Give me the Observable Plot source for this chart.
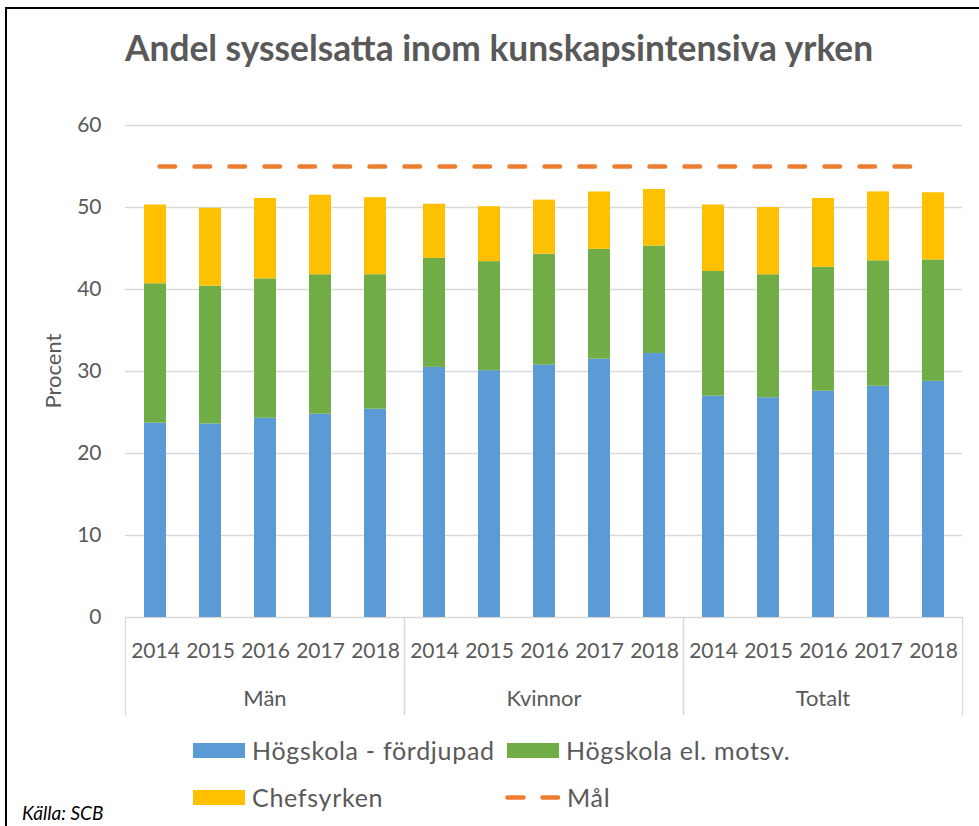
<!DOCTYPE html>
<html>
<head>
<meta charset="utf-8">
<script src="https://cdn.jsdelivr.net/npm/d3@7"></script>
<script src="https://cdn.jsdelivr.net/npm/@observablehq/plot@0.6"></script>
<style>
  html, body { margin: 0; padding: 0; background: #fff; }
  #wrap { position: relative; width: 979px; height: 826px; overflow: hidden; font-family: Lato, "Open Sans", sans-serif; color: #595959; }
  #border { position: absolute; left: 5px; top: 7px; right: -10px; bottom: -10px; border-left: 2px solid #000; border-top: 2px solid #000; }
  #title { position: absolute; left: 125px; top: 28px; font-weight: bold; font-size: 35.3px; white-space: nowrap; line-height: 40px; color: #595959; }
  #ylabel { position: absolute; left: 52px; top: 371px; font-size: 22px; white-space: nowrap; transform: translate(-50%, -50%) rotate(-90deg); color: #595959; }
  .chart { position: absolute; left: 0; top: 0; }
  .leg { position: absolute; display: flex; align-items: center; font-size: 25px; letter-spacing: 0.7px; white-space: nowrap; color: #595959; }
  .sw { width: 52px; height: 15px; margin-right: 7px; }
  #source { position: absolute; left: 22px; top: 801px; font-style: italic; font-size: 19px; color: #000; white-space: nowrap; }
</style>
</head>
<body>
<div id="wrap">
  <div id="border"></div>
  <div id="title"></div>
  <div id="ylabel"></div>
  <div id="legend"></div>
  <div id="source"></div>
</div>
<script>
// ---- Data ----
const titleText = "Andel sysselsatta inom kunskapsintensiva yrken";
const yLabel = "Procent";
const sourceText = "Källa: SCB";
const groups = ["Män", "Kvinnor", "Totalt"];
const years = ["2014", "2015", "2016", "2017", "2018"];
const seriesNames = ["Högskola - fördjupad", "Högskola el. motsv.", "Chefsyrken"];
const goalName = "Mål";
// values in order Män 2014..2018, Kvinnor 2014..2018, Totalt 2014..2018
const hogskolaFordjupad = [23.7, 23.6, 24.3, 24.8, 25.4, 30.5, 30.1, 30.8, 31.5, 32.2, 27.0, 26.8, 27.6, 28.2, 28.8];
const hogskolaMotsv     = [17.0, 16.8, 17.0, 17.0, 16.4, 13.3, 13.3, 13.5, 13.4, 13.1, 15.2, 15.0, 15.1, 15.3, 14.8];
const chefsyrken        = [ 9.6,  9.5,  9.8,  9.7,  9.4,  6.6,  6.7,  6.6,  7.0,  6.9,  8.1,  8.2,  8.4,  8.4,  8.2];
const goalValue = 55;
const yTicks = [0, 10, 20, 30, 40, 50, 60];
const colors = ["#5b9bd5", "#70ad47", "#ffc000"];
const goalColor = "#ed7d31";

// ---- Build tables ----
const seriesValues = [hogskolaFordjupad, hogskolaMotsv, chefsyrken];
const rows = [];
groups.forEach((g, gi) => years.forEach((yr, yi) => {
  const i = gi * years.length + yi;
  seriesNames.forEach((s, si) => rows.push({group: g, year: yr, series: s, value: seriesValues[si][i]}));
}));
const keys = groups.flatMap(g => years.map(y => g + " " + y));
const goalRows = keys.map(k => ({key: k, goal: goalValue}));

const W = 979, H = 826;
const M = {top: 125, bottom: 209, left: 124, right: 16};
const grey = "#d9d9d9";
const textGrey = "#595959";

const chart = Plot.plot({
  width: W, height: H,
  marginTop: M.top, marginBottom: M.bottom, marginLeft: M.left, marginRight: M.right,
  style: {fontFamily: "Lato, 'Open Sans', sans-serif", fontSize: "21px", color: textGrey, background: "transparent", overflow: "visible"},
  fx: {domain: groups, padding: 0},
  x: {domain: years, paddingInner: 0.6, paddingOuter: 0.3},
  y: {domain: [0, 60]},
  color: {domain: seriesNames, range: colors},
  marks: [
    Plot.gridY(yTicks, {stroke: grey, strokeOpacity: 1, strokeWidth: 1.3}),
    Plot.axisY(yTicks, {tickSize: 0, tickPadding: 24, label: null, fill: textGrey, fontSize: 21}),
    Plot.barY(rows, {fx: "group", x: "year", y: "value", fill: "series", order: seriesNames}),
    Plot.axisX({tickSize: 0, tickPadding: 26, label: null, fill: textGrey, fontSize: 21}),
    Plot.axisFx({anchor: "bottom", tickSize: 0, tickPadding: 73, label: null, fill: textGrey, fontSize: 22}),
    Plot.frame({anchor: "left", stroke: grey, strokeWidth: 1.3, insetTop: H - M.top - M.bottom, insetBottom: -97}),
    Plot.frame({anchor: "right", stroke: grey, strokeWidth: 1.3, insetTop: H - M.top - M.bottom, insetBottom: -97})
  ]
});
chart.classList.add("chart");

const overlay = Plot.plot({
  width: W, height: H,
  marginTop: M.top, marginBottom: M.bottom, marginLeft: M.left, marginRight: M.right,
  style: {background: "transparent"},
  x: {type: "point", domain: keys, padding: 0.5, axis: null},
  y: {domain: [0, 60], axis: null},
  marks: [
    Plot.lineY(goalRows, {x: "key", y: "goal", stroke: goalColor, strokeWidth: 4.5, strokeDasharray: "15.5,19.5", strokeLinecap: "round"})
  ]
});
overlay.classList.add("chart");

const wrap = document.getElementById("wrap");
wrap.appendChild(chart);
wrap.appendChild(overlay);

document.getElementById("title").textContent = titleText;
document.getElementById("ylabel").textContent = yLabel;
document.getElementById("source").textContent = sourceText;

// Legend
const legendItems = [
  {name: seriesNames[0], color: colors[0], left: 193, top: 750},
  {name: seriesNames[1], color: colors[1], left: 507, top: 750},
  {name: seriesNames[2], color: colors[2], left: 193, top: 797},
  {name: goalName, color: goalColor, left: 505, top: 797, dashed: true}
];
const legend = document.getElementById("legend");
legendItems.forEach(it => {
  const d = document.createElement("div");
  d.className = "leg";
  d.style.left = it.left + "px";
  d.style.top = (it.top - 15) + "px";
  d.style.height = "30px";
  if (it.dashed) {
    d.innerHTML = `<svg width="55" height="15" style="margin-right:7px"><line x1="2.5" x2="53" y1="7.5" y2="7.5" stroke="${it.color}" stroke-width="4.5" stroke-linecap="round" stroke-dasharray="16,19"/></svg>`;
  } else {
    d.innerHTML = `<div class="sw" style="background:${it.color}"></div>`;
  }
  const s = document.createElement("span");
  s.textContent = it.name;
  d.appendChild(s);
  legend.appendChild(d);
});
</script>
</body>
</html>
